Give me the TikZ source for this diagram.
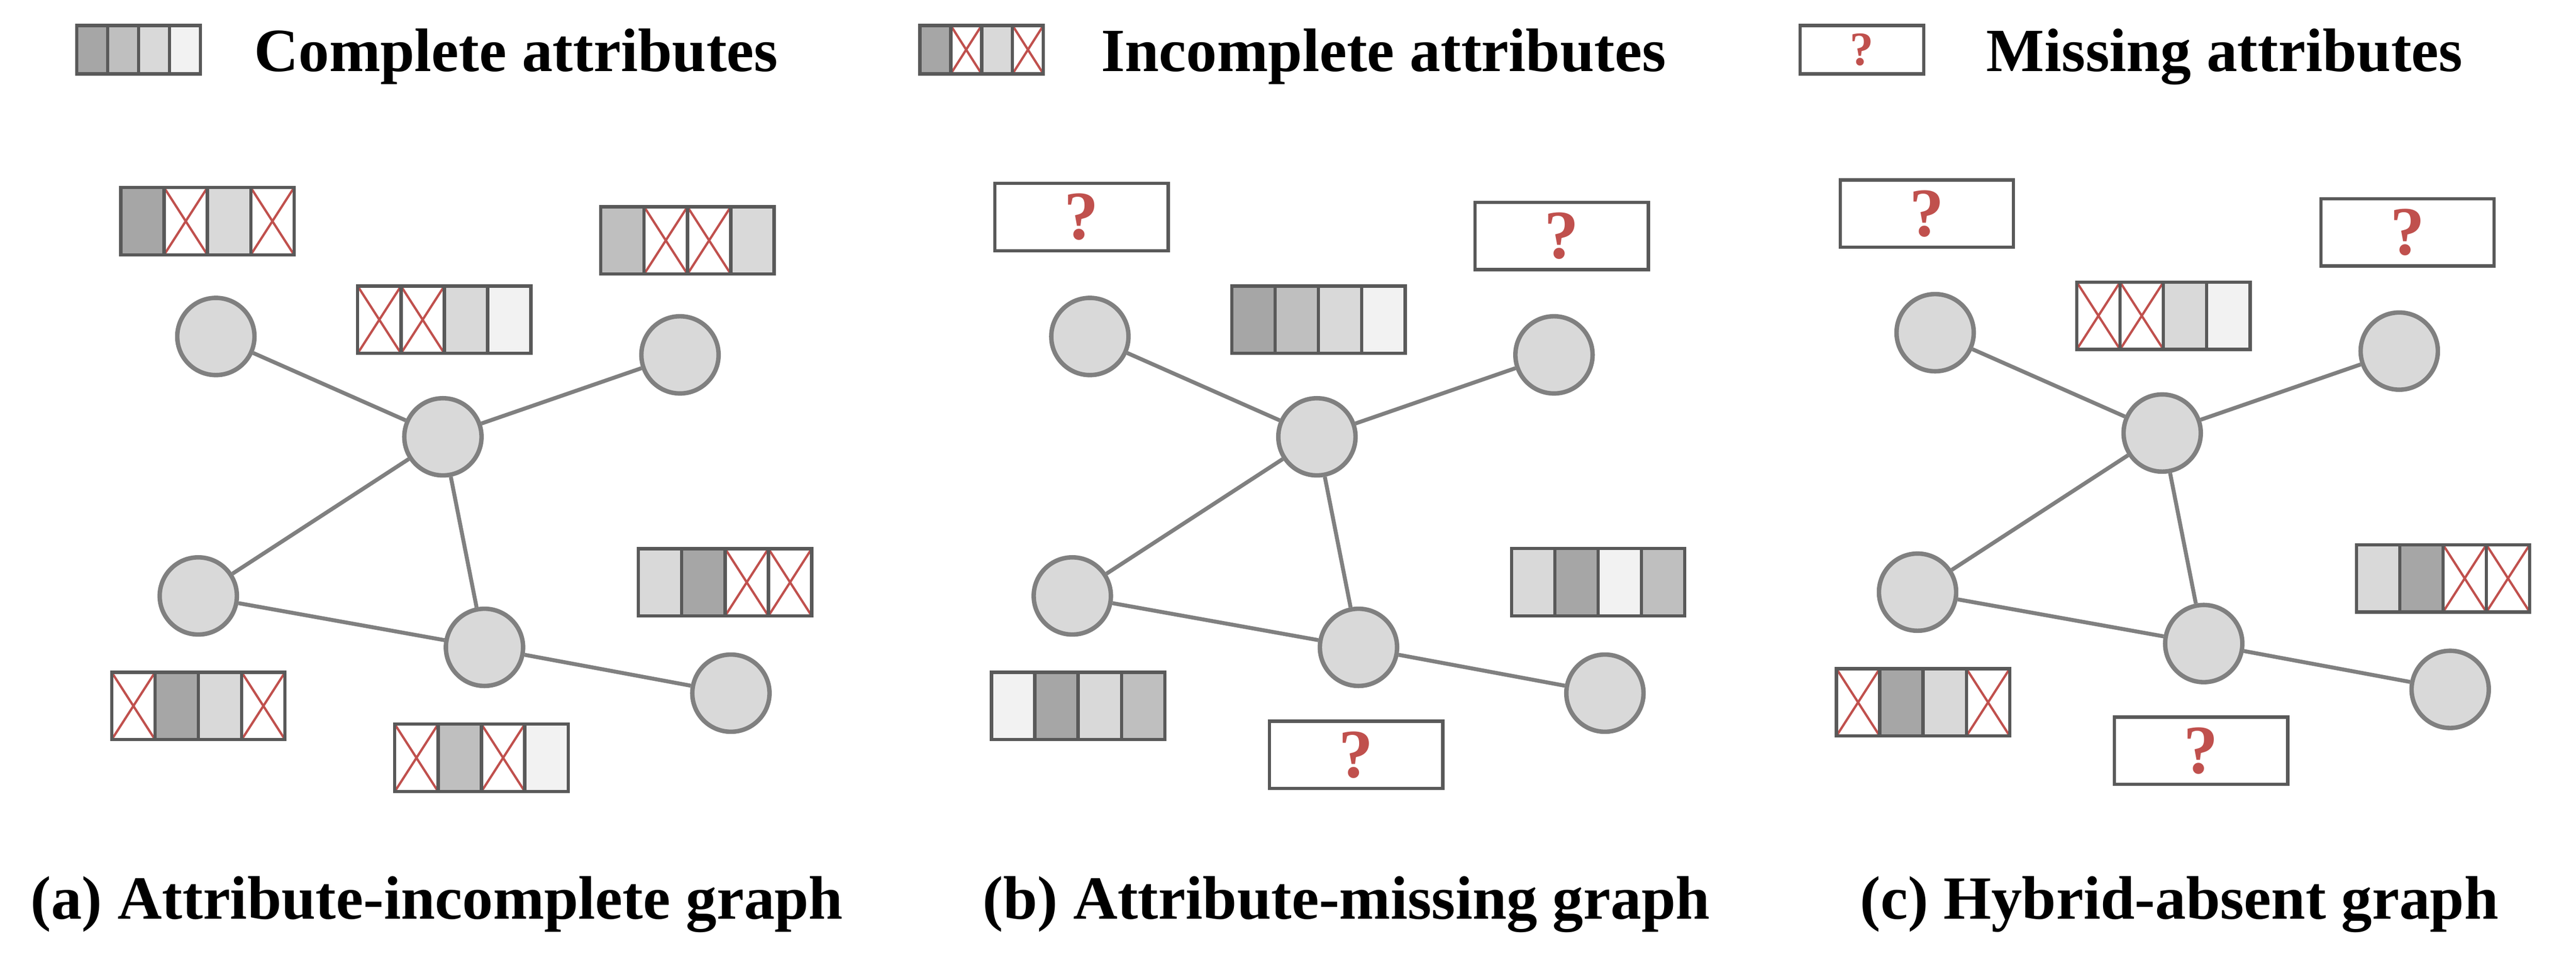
\documentclass[tikz,border=0pt]{standalone}
\usepackage{fontspec}
\setmainfont{Liberation Serif}
\definecolor{cD}{HTML}{A6A6A6}
\definecolor{cM}{HTML}{BFBFBF}
\definecolor{cL}{HTML}{D9D9D9}
\definecolor{cV}{HTML}{F2F2F2}
\definecolor{bordc}{HTML}{595959}
\definecolor{nodec}{HTML}{808080}
\definecolor{redc}{HTML}{C0504D}
\tikzset{
  bordst/.style={draw=bordc, line width=2pt, line join=miter},
  crossst/.style={draw=redc, line width=1.4pt},
  gnode/.style={circle, draw=nodec, fill=cL, line width=2.7pt, minimum size=47pt, inner sep=0pt},
  gedge/.style={draw=nodec, line width=2.4pt},
  qbig/.style={text=redc, inner sep=0pt, font=\fontsize{42}{46}\selectfont\bfseries},
  qsmall/.style={text=redc, inner sep=0pt, font=\fontsize{29}{32}\selectfont\bfseries},
  labst/.style={inner sep=0pt, anchor=base west, font=\fontsize{37.4}{44}\selectfont\bfseries},
}
\def\cw{26.375}
\def\ch{41}
\newcommand\acell[2]{%
  \if X#2%
    \draw[crossst] (#1*\cw,0) -- ++(\cw,\ch) (#1*\cw+\cw,0) -- ++(-\cw,\ch);%
  \else
    \fill[c#2] (#1*\cw,0) rectangle ++(\cw,\ch);%
  \fi}
\newcommand\cells[4]{%
  \acell{0}{#1}\acell{1}{#2}\acell{2}{#3}\acell{3}{#4}%
  \draw[bordst] (0,0) rectangle (4*\cw,\ch)
     (\cw,0) -- (\cw,\ch) (2*\cw,0) -- (2*\cw,\ch) (3*\cw,0) -- (3*\cw,\ch);}
\newcommand\abox[6]{%
  \begin{scope}[shift={(#1,#2)}]\cells{#3}{#4}{#5}{#6}\end{scope}}
\newcommand\qbox[3]{%
  \draw[bordst] (#2,#3) rectangle ++(4*\cw,\ch);
  \node[qbig] (#1) at (#2+2*\cw,#3+0.5*\ch) {?};}
\newcommand\drawgraph[3]{%
  \begin{scope}[shift={(#2,#3)}]
    \node[gnode] (#1n1) at (131.4,204.9) {};
    \node[gnode] (#1n2) at (269.6,266) {};
    \node[gnode] (#1n3) at (413.9,216.1) {};
    \node[gnode] (#1n4) at (120.7,362.9) {};
    \node[gnode] (#1n5) at (294.9,394.2) {};
    \node[gnode] (#1n6) at (444.9,422.1) {};
    \draw[gedge] (#1n1) -- (#1n2);
    \draw[gedge] (#1n2) -- (#1n3);
    \draw[gedge] (#1n2) -- (#1n4);
    \draw[gedge] (#1n2) -- (#1n5);
    \draw[gedge] (#1n4) -- (#1n5);
    \draw[gedge] (#1n5) -- (#1n6);
  \end{scope}}
\begin{document}
\begin{tikzpicture}[x=1pt,y=-1pt]
\useasboundingbox[fill=white] (0,0) rectangle (1568,586.34);
% legend
\begin{scope}
  \def\cw{18.8}\def\ch{29.5}
  \abox{46.8}{15.5}{D}{M}{L}{V}
  \abox{559.9}{15.5}{D}{X}{L}{X}
  \draw[bordst] (1095.7,15.5) rectangle ++(4*\cw,\ch);
  \node[qsmall] (lq) at (1095.7+2*\cw,15.5+0.5*\ch) {?};
\end{scope}
\node[labst] (l1) at (154.5,43.3) {Complete attributes};
\node[labst] (l2) at (670,43.3) {Incomplete attributes};
\node[labst] (l3) at (1209,43.3) {Missing attributes};
% graphs
\drawgraph{a}{0}{0}
\drawgraph{b}{532}{0}
\drawgraph{c}{1046.5}{-2.3}
% panel a boxes
\abox{73.5}{114.2}{D}{X}{L}{X}
\abox{365.7}{125.9}{M}{X}{X}{L}
\abox{217.7}{174.2}{X}{X}{L}{V}
\abox{388.6}{334.1}{L}{D}{X}{X}
\abox{68}{409.4}{X}{D}{L}{X}
\abox{240.3}{441}{X}{M}{X}{V}
% panel b boxes
\qbox{bq1}{605.6}{111.7}
\qbox{bq2}{897.8}{123.2}
\abox{749.8}{174.2}{D}{M}{L}{V}
\abox{920}{334}{L}{D}{V}{M}
\abox{603.5}{409.4}{V}{D}{L}{M}
\qbox{bq3}{772.7}{439.2}
% panel c boxes
\qbox{cq1}{1120.1}{109.6}
\qbox{cq2}{1412.7}{121}
\abox{1264.1}{171.8}{X}{X}{L}{V}
\abox{1434.3}{331.7}{L}{D}{X}{X}
\abox{1117.8}{407.2}{X}{D}{L}{X}
\qbox{cq3}{1287}{436.7}
% captions
\node[labst] (capa) at (18.5,559.5) {(a) Attribute-incomplete graph};
\node[labst] (capb) at (598,559.5) {(b) Attribute-missing graph};
\node[labst] (capc) at (1132,559.5) {(c) Hybrid-absent graph};
\end{tikzpicture}
\end{document}
